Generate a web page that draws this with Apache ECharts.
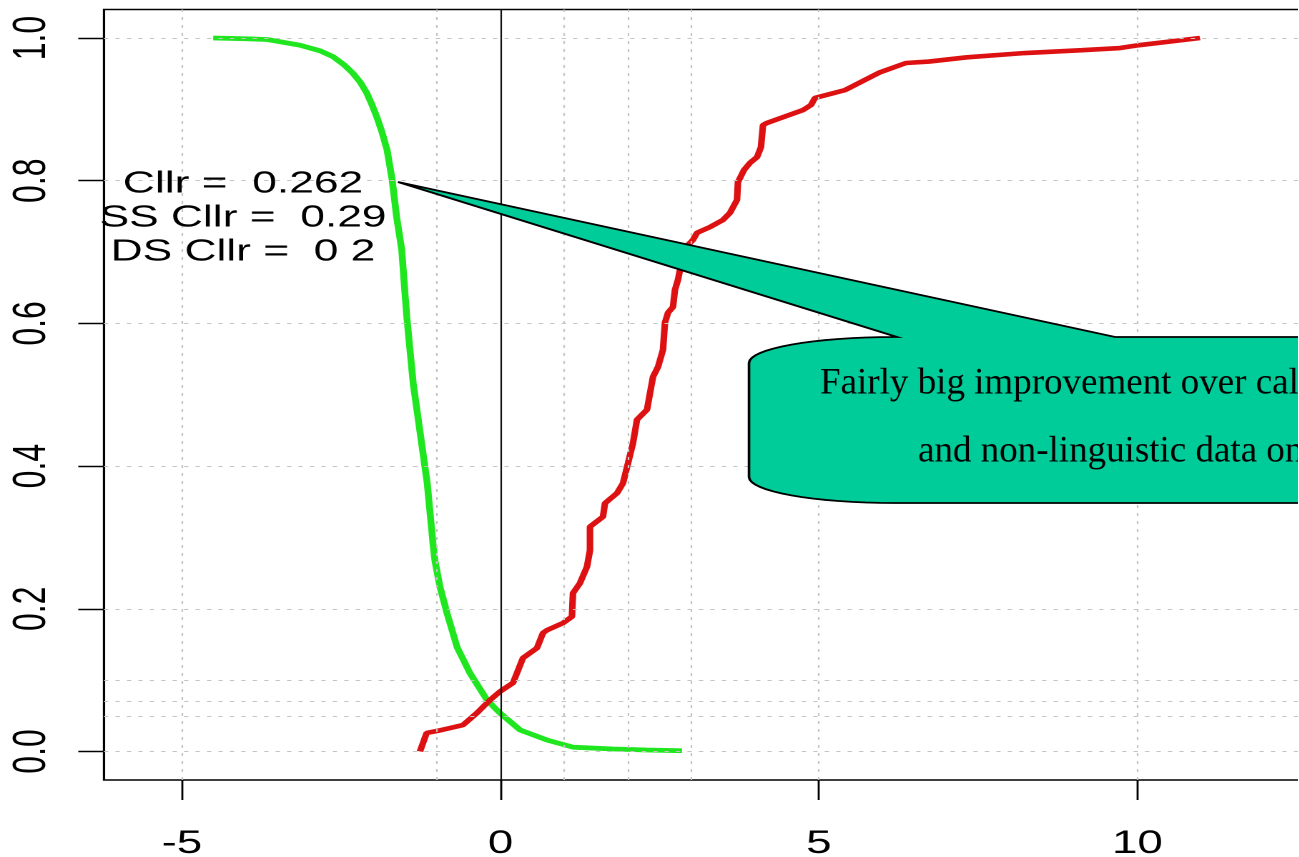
<!DOCTYPE html>
<html>
<head>
<meta charset="utf-8">
<script src="https://cdn.jsdelivr.net/npm/echarts@6/dist/echarts.min.js"></script>
<style>
html, body { margin: 0; padding: 0; background: #ffffff; overflow: hidden; }
#chart { height: 857px; transform-origin: 0 0; }
</style>
</head>
<body>
<div id="chart"></div>
<script>
// ---- data ----
const xTickValues = [-5, 0, 5, 10];
const yTickValues = [0, 0.2, 0.4, 0.6, 0.8, 1.0];
const xGridValues = [-5, -1, 1, 2, 3, 5, 10];
const yGridValues = [0, 0.05, 0.07, 0.1, 0.2, 0.4, 0.6, 0.8, 1.0];
const zeroLineX = [0];

const greenX = [-4.51, -4.0, -3.67, -3.15, -2.83, -2.63, -2.45, -2.32, -2.20, -2.10, -2.02, -1.94, -1.86, -1.78, -1.70, -1.63, -1.55, -1.50, -1.47, -1.42, -1.37, -1.26, -1.15, -1.06, -1.03, -0.95, -0.84, -0.68, -0.48, -0.21, -0.01, 0.31, 0.73, 1.14, 1.77, 2.30, 2.85];
const greenY = [1.000, 0.999, 0.998, 0.990, 0.982, 0.974, 0.962, 0.951, 0.938, 0.923, 0.907, 0.889, 0.868, 0.843, 0.801, 0.749, 0.703, 0.643, 0.609, 0.562, 0.516, 0.446, 0.376, 0.292, 0.268, 0.231, 0.194, 0.146, 0.110, 0.072, 0.054, 0.030, 0.016, 0.006, 0.0035, 0.002, 0.001];

const redX = [-1.264, -1.159, -0.981, -0.589, -0.369, -0.165, -0.008, 0.196, 0.259, 0.353, 0.573, 0.667, 0.730, 0.981, 1.122, 1.138, 1.248, 1.358, 1.405, 1.405, 1.609, 1.641, 1.829, 1.923, 2.002, 2.080, 2.143, 2.300, 2.347, 2.394, 2.473, 2.551, 2.582, 2.630, 2.708, 2.739, 2.786, 2.818, 2.865, 3.022, 3.085, 3.289, 3.493, 3.603, 3.713, 3.728, 3.823, 3.917, 4.027, 4.089, 4.121, 4.184, 4.749, 4.874, 4.937, 5.408, 5.958, 6.366, 6.727, 7.323, 8.234, 9.129, 9.725, 10.024, 10.981];
const redY = [0.000, 0.026, 0.029, 0.037, 0.054, 0.072, 0.084, 0.096, 0.110, 0.131, 0.145, 0.166, 0.170, 0.180, 0.189, 0.222, 0.236, 0.259, 0.282, 0.315, 0.329, 0.348, 0.362, 0.376, 0.404, 0.432, 0.465, 0.479, 0.502, 0.525, 0.539, 0.563, 0.601, 0.615, 0.623, 0.647, 0.661, 0.675, 0.703, 0.717, 0.727, 0.735, 0.745, 0.755, 0.773, 0.798, 0.815, 0.825, 0.833, 0.847, 0.878, 0.881, 0.899, 0.906, 0.916, 0.927, 0.952, 0.965, 0.967, 0.973, 0.979, 0.983, 0.986, 0.990, 1.000];

const statsLines = ['Cllr =  0.262', 'SS Cllr =  0.29', 'DS Cllr =  0 2'];
const calloutLines = ['Fairly big improvement over cal', 'and non-linguistic data on'];

// ---- layout (the original plot image is stretched horizontally) ----
const K = 1.43;
const W = 1299 / K;
const el = document.getElementById('chart');
el.style.width = W + 'px';
el.style.transform = 'scaleX(' + K + ')';
const cx = v => v / K;

const xMin = -6.224, xMax = 13;
const yMin = -0.04, yMax = 1.04;
const gridLeft = cx(104);
const gridWidth = cx(63.7) * (xMax - xMin);
const gridTop = 9.5;
const gridHeight = 770.5;

function pts(xs, ys) { return xs.map((x, i) => [x, ys[i]]); }

// callout outline (css px -> chart px), elliptical left corners
function calloutPoints() {
  const out = [];
  const add = (x, y) => out.push([cx(x), y]);
  add(398, 182);
  add(897, 337);
  const ecx = 894, rx = 145, ry = 26;
  for (let i = 0; i <= 16; i++) {
    const t = -Math.PI / 2 - (Math.PI / 2) * i / 16;
    add(ecx + rx * Math.cos(t), 363 + ry * Math.sin(t));
  }
  for (let i = 0; i <= 16; i++) {
    const t = Math.PI - (Math.PI / 2) * i / 16;
    add(ecx + rx * Math.cos(t), 477 + ry * Math.sin(t));
  }
  add(1360, 503);
  add(1360, 337);
  add(1115, 337);
  return out;
}

const chart = echarts.init(el, null, { renderer: 'canvas', devicePixelRatio: 2 });

const gridStyle = { color: '#c4c4c4', width: 1.1, type: [3, 5] };

const option = {
  animation: false,
  backgroundColor: '#ffffff',
  grid: {
    show: true,
    left: gridLeft, top: gridTop, width: gridWidth, height: gridHeight,
    borderColor: '#000000', borderWidth: 1.6,
    containLabel: false,
    outerBoundsMode: 'none'
  },
  xAxis: {
    type: 'value', min: xMin, max: xMax, position: 'bottom',
    axisLine: { show: false, onZero: false },
    splitLine: { show: false },
    axisTick: { show: true, inside: false, customValues: xTickValues, length: 20, lineStyle: { color: '#000', width: 1.4 } },
    axisLabel: { customValues: xTickValues, margin: 48, color: '#000', fontSize: 32, fontFamily: 'Liberation Sans' }
  },
  yAxis: {
    type: 'value', min: yMin, max: yMax, position: 'left',
    axisLine: { show: false, onZero: false },
    splitLine: { show: false },
    axisTick: { show: true, inside: false, customValues: yTickValues, length: 18, lineStyle: { color: '#000', width: 1.4 } },
    axisLabel: { customValues: yTickValues, rotate: 90, margin: 34, color: '#000', fontSize: 32, fontFamily: 'Liberation Sans',
      formatter: v => v.toFixed(1) }
  },
  series: [
    {
      type: 'line', data: [], z: 1, silent: true,
      markLine: {
        silent: true, symbol: 'none', label: { show: false }, animation: false,
        lineStyle: gridStyle,
        data: xGridValues.map(v => ({ xAxis: v })).concat(yGridValues.map(v => ({ yAxis: v })))
      }
    },
    {
      type: 'line', data: [], z: 2, silent: true,
      markLine: {
        silent: true, symbol: 'none', label: { show: false }, animation: false,
        lineStyle: { color: '#111111', width: 1.1, type: 'solid' },
        data: zeroLineX.map(v => ({ xAxis: v }))
      }
    },
    {
      name: 'green', type: 'line', data: pts(greenX, greenY), z: 3,
      showSymbol: false, symbol: 'none', smooth: false,
      lineStyle: { color: '#1fe61f', width: 4.8 }
    },
    {
      name: 'red', type: 'line', data: pts(redX, redY), z: 3,
      showSymbol: false, symbol: 'none', smooth: false,
      lineStyle: { color: '#dd1111', width: 4.6 }
    }
  ],
  graphic: {
    elements: [
      {
        type: 'text', z: 50, x: cx(243), y: 184,
        style: { text: statsLines[0], fill: '#000', font: '31px "Liberation Sans"', textAlign: 'center', textVerticalAlign: 'middle' }
      },
      {
        type: 'text', z: 50, x: cx(243), y: 218,
        style: { text: statsLines[1], fill: '#000', font: '31px "Liberation Sans"', textAlign: 'center', textVerticalAlign: 'middle' }
      },
      {
        type: 'text', z: 50, x: cx(243), y: 252,
        style: { text: statsLines[2], fill: '#000', font: '31px "Liberation Sans"', textAlign: 'center', textVerticalAlign: 'middle' }
      },
      {
        type: 'polygon', z: 60,
        shape: { points: calloutPoints() },
        style: { fill: '#00cc99', stroke: '#000000', lineWidth: 1.8, lineJoin: 'miter' }
      },
      {
        type: 'text', z: 70, x: cx(820), y: 384, scaleX: 1 / K,
        style: { text: calloutLines[0], fill: '#000', font: '37px "Liberation Serif"', textAlign: 'left', textVerticalAlign: 'middle' }
      },
      {
        type: 'text', z: 70, x: cx(918), y: 452, scaleX: 1 / K,
        style: { text: calloutLines[1], fill: '#000', font: '37px "Liberation Serif"', textAlign: 'left', textVerticalAlign: 'middle' }
      }
    ]
  }
};

chart.setOption(option);
</script>
</body>
</html>
